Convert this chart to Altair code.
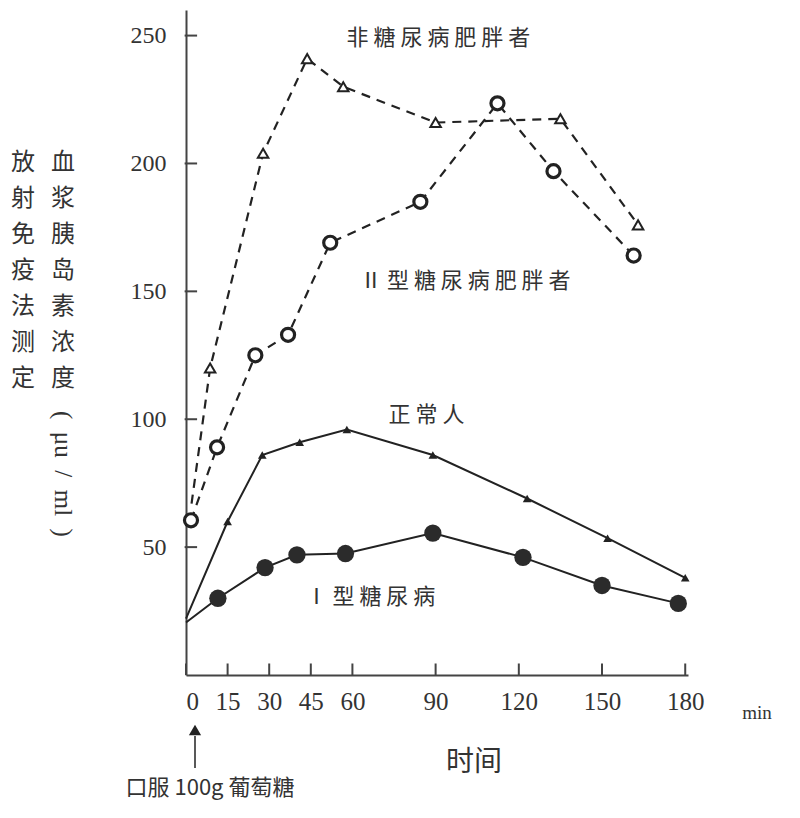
import altair as alt
import pandas as pd

# ---- data ----
x_ticks = [0, 15, 30, 45, 60, 90, 120, 150, 180]
y_ticks = [50, 100, 150, 200, 250]

normal_t = [0, 15, 27.5, 41, 58, 89, 123, 152, 180]
normal_v = [22, 60, 86, 91, 96, 86, 69, 53.5, 38]

type1_t = [0, 11.5, 28.5, 40, 57.5, 89, 121.5, 150, 177.5]
type1_v = [20.5, 30, 42, 47, 47.5, 55.5, 46, 35, 28]

obese_t = [2, 8.7, 27.8, 43.7, 56.7, 90, 135, 163]
obese_v = [67, 120, 204, 241, 230, 216, 217.5, 176]

type2_obese_t = [1.8, 11.2, 25, 36.8, 52, 84.5, 112.3, 132.5, 161.4]
type2_obese_v = [60.5, 89, 125, 133, 169, 185, 223.5, 197, 164]

series_labels = ["非 糖 尿 病 肥 胖 者", "Ⅱ 型 糖 尿 病 肥 胖 者", "正 常 人", "Ⅰ 型 糖 尿 病"]
label_t = [91, 100.7, 86.7, 66.5]
label_v = [249, 154, 101.5, 30.5]

INK = "#222222"
TXT = "#333333"
CJK = "Noto Sans CJK SC"
SERIF = "Liberation Serif"

def frame(t, v):
    return pd.DataFrame({"t": t, "v": v})

xs = alt.Scale(domain=[0, 181], nice=False, zero=False)
ys = alt.Scale(domain=[0, 260], nice=False)

x_axis = alt.Axis(values=x_ticks, ticks=False, grid=False, title=None,
                  labelFont=SERIF, labelFontSize=25, labelColor=TXT,
                  labelPadding=14, domainColor="#444", domainWidth=2)
y_axis = alt.Axis(values=y_ticks, ticks=False, grid=False, title=None,
                  labelFont=SERIF, labelFontSize=24, labelColor=TXT,
                  labelPadding=20, domainColor="#444", domainWidth=2)

X = alt.X("t:Q", scale=xs, axis=x_axis)
Y = alt.Y("v:Q", scale=ys, axis=y_axis)
Xn = alt.X("t:Q", scale=xs)
Yn = alt.Y("v:Q", scale=ys)

# lines
normal_line = alt.Chart(frame(normal_t, normal_v)).mark_line(color=INK, strokeWidth=2).encode(x=X, y=Y)
type1_line = alt.Chart(frame(type1_t, type1_v)).mark_line(color=INK, strokeWidth=2).encode(x=Xn, y=Yn)
obese_line = alt.Chart(frame(obese_t, obese_v)).mark_line(color=INK, strokeWidth=2.2, strokeDash=[9, 7]).encode(x=Xn, y=Yn)
type2_line = alt.Chart(frame(type2_obese_t, type2_obese_v)).mark_line(color=INK, strokeWidth=2.2, strokeDash=[9, 7]).encode(x=Xn, y=Yn)

# markers (the common starting points of the first three curves carry no marker)
normal_pts = alt.Chart(frame(normal_t[1:], normal_v[1:])).mark_point(
    shape="triangle-up", filled=True, size=75, color=INK, opacity=1).encode(x=Xn, y=Yn)
type1_pts = alt.Chart(frame(type1_t[1:], type1_v[1:])).mark_point(
    shape="circle", filled=True, size=300, color="#2b2b2b", opacity=1).encode(x=Xn, y=Yn)
obese_pts = alt.Chart(frame(obese_t[1:], obese_v[1:])).mark_point(
    shape="triangle-up", fill="white", stroke=INK, strokeWidth=2, size=110, opacity=1).encode(x=Xn, y=Yn)
type2_pts = alt.Chart(frame(type2_obese_t, type2_obese_v)).mark_point(
    shape="circle", fill="white", stroke=INK, strokeWidth=3.2, size=170, opacity=1).encode(x=Xn, y=Yn)

# inward ticks
y_tick_rules = alt.Chart(pd.DataFrame({"v": y_ticks})).mark_rule(color="#444", strokeWidth=2).encode(
    x=alt.datum(-0.5, scale=xs), x2=alt.datum(4), y=Yn)
x_tick_rules = alt.Chart(pd.DataFrame({"t": x_ticks})).mark_rule(color="#444", strokeWidth=2).encode(
    x=Xn, y=alt.datum(0, scale=ys), y2=alt.datum(4.5))

# series labels
labels = alt.Chart(pd.DataFrame({"t": label_t, "v": label_v, "s": series_labels})).mark_text(
    font=CJK, fontSize=22, color=TXT, align="center", baseline="middle").encode(x=Xn, y=Yn, text="s:N")

# annotations below / left of the plot
def note(text, x, y, **kw):
    return alt.Chart(pd.DataFrame({"s": [text]})).mark_text(**kw).encode(
        x=alt.value(x), y=alt.value(y), text="s:N")

min_txt = note("min", 571, 703, font=SERIF, fontSize=19, color=TXT, align="center", baseline="middle")
time_txt = note("时间", 288, 753, font=CJK, fontSize=28, color=TXT, align="center", baseline="middle")
oral_txt = note("口服 100g 葡萄糖", 24, 778, font=CJK, fontSize=22, color=TXT, align="center", baseline="middle")

arrow_head = alt.Chart(pd.DataFrame({"a": [0]})).mark_point(
    shape="triangle-up", filled=True, size=150, color=INK, opacity=1).encode(
    x=alt.value(9), y=alt.value(720))
arrow_line = alt.Chart(pd.DataFrame({"a": [0]})).mark_rule(color=INK, strokeWidth=1.5).encode(
    x=alt.value(9), y=alt.value(726), y2=alt.value(758))

left_col = note("放\n射\n免\n疫\n法\n测\n定", -163, 141, font=CJK, fontSize=24, color=TXT,
                align="center", baseline="top", lineBreak="\n", lineHeight=36)
right_col = note("血\n浆\n胰\n岛\n素\n浓\n度", -123, 141, font=CJK, fontSize=24, color=TXT,
                 align="center", baseline="top", lineBreak="\n", lineHeight=36)
gap = "\u2002"
unit_txt = note("(" + gap + "μu" + gap + "/" + gap + "ml" + gap + ")", -123, 464,
                font=SERIF, fontSize=25, color=TXT,
                align="center", baseline="middle", angle=90)

chart = alt.layer(
    normal_line, type1_line, obese_line, type2_line,
    y_tick_rules, x_tick_rules,
    normal_pts, type1_pts, obese_pts, type2_pts,
    labels, min_txt, time_txt, oral_txt, arrow_line, arrow_head,
    left_col, right_col, unit_txt,
).properties(
    width=502, height=665,
    autosize=alt.AutoSizeParams(type="none"),
    padding={"left": 178, "top": 2, "right": 100, "bottom": 135},
    background="white",
).configure_view(stroke=None)

chart.save("out.html", embed_options={"renderer": "svg", "actions": False})
